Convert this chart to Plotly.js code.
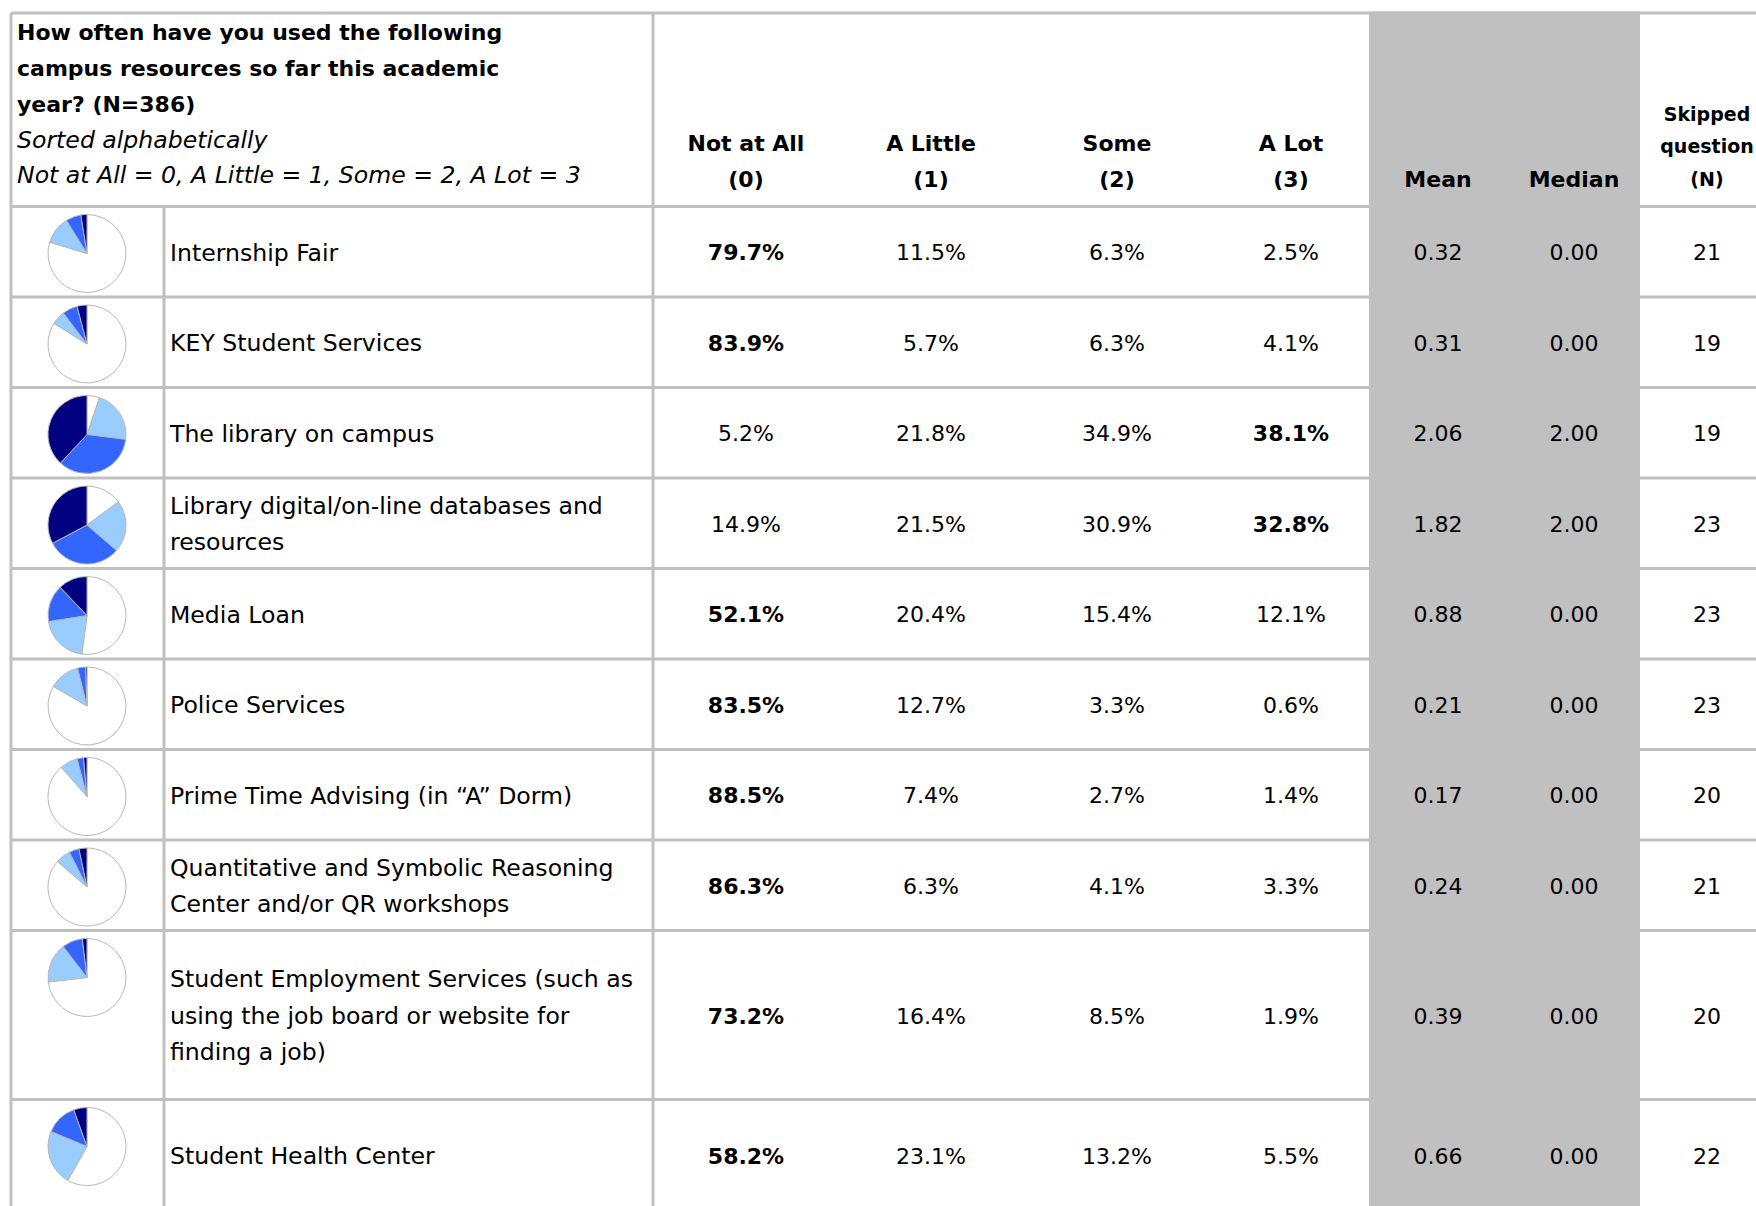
<!DOCTYPE html>
<html><head><meta charset="utf-8">
<script src="https://cdn.plot.ly/plotly-3.0.1.min.js"></script>
<style>html,body{margin:0;padding:0;background:#fff;overflow:hidden}#chart{width:1756px;height:1206px}</style>
</head><body><div id="chart"></div>
<script>
// ---------------- DATA ----------------
const resources = [
  "Internship Fair",
  "KEY Student Services",
  "The library on campus",
  "Library digital/on-line databases and\nresources",
  "Media Loan",
  "Police Services",
  "Prime Time Advising (in \u201cA\u201d Dorm)",
  "Quantitative and Symbolic Reasoning\nCenter and/or QR workshops",
  "Student Employment Services (such as\nusing the job board or website for\nfinding a job)",
  "Student Health Center"
];
const notAtAll = [79.7, 83.9, 5.2, 14.9, 52.1, 83.5, 88.5, 86.3, 73.2, 58.2];
const aLittle  = [11.5, 5.7, 21.8, 21.5, 20.4, 12.7, 7.4, 6.3, 16.4, 23.1];
const some     = [6.3, 6.3, 34.9, 30.9, 15.4, 3.3, 2.7, 4.1, 8.5, 13.2];
const aLot     = [2.5, 4.1, 38.1, 32.8, 12.1, 0.6, 1.4, 3.3, 1.9, 5.5];
const meanScores   = [0.32, 0.31, 2.06, 1.82, 0.88, 0.21, 0.17, 0.24, 0.39, 0.66];
const medianScores = [0, 0, 2, 2, 0, 0, 0, 0, 0, 0];
const skippedN     = [21, 19, 19, 23, 23, 23, 20, 21, 20, 22];
const responseHeaders = [["Not at All", "(0)"], ["A Little", "(1)"], ["Some", "(2)"], ["A Lot", "(3)"]];
const statHeaders = ["Mean", "Median"];
const skippedHeader = ["Skipped", "question", "(N)"];
const titleBold = [
  "How often have you used the following",
  "campus resources so far this academic",
  "year? (N=386)"
];
const titleItalic = [
  "Sorted alphabetically",
  "Not at All = 0, A Little = 1, Some = 2, A Lot = 3"
];
const sliceColors = ["#ffffff", "#99ccff", "#3366ff", "#000080"];

// ---------------- LAYOUT GEOMETRY ----------------
const W = 1756, H = 1206;
const TOP = 13, HEAD_BOTTOM = 206.5, LEFT = 11, PIE_DIV = 164, LABEL_DIV = 653;
const SHADE_X0 = 1369, SHADE_X1 = 1640;
const rowHeights = [90.5, 90.5, 90.5, 90.5, 90.5, 90.5, 90.5, 90.5, 169, 112];
const pctCols = [746, 931, 1117, 1291];
const meanX = 1438, medianX = 1574, skippedX = 1707;
const LABEL_X = 170, LINE_H = 36.5, DY = 3;
const PIE_CX = 87, PIE_R = 39, PIE_PAD = 8;
const GRID = "#c0c0c0";
const FONT = "DejaVu Sans";

const rowTops = [];
let acc = HEAD_BOTTOM;
rowHeights.forEach(h => { rowTops.push(acc); acc += h; });
const tableBottom = acc;
const rowMid = i => rowTops[i] + rowHeights[i] / 2 + DY;

const traces = [];
function textTrace(x, y, text, pos, size) {
  return {type: "scatter", mode: "text", x: x, y: y, text: text, textposition: pos,
    textfont: {family: FONT, size: size, color: "#000"}, hoverinfo: "skip", cliponaxis: false, showlegend: false};
}

// labels (split into lines for exact line spacing)
const lx = [], ly = [], lt = [];
resources.forEach((lab, i) => {
  const lines = lab.split("\n");
  lines.forEach((ln, k) => {
    lx.push(LABEL_X);
    ly.push(rowMid(i) + (k - (lines.length - 1) / 2) * LINE_H);
    lt.push(ln);
  });
});
traces.push(textTrace(lx, ly, lt, "middle right", 23.6));

// percentages (bold = largest in the row)
const series = [notAtAll, aLittle, some, aLot];
const px = [], py = [], pt = [];
resources.forEach((_, i) => {
  const vals = series.map(s => s[i]);
  const mx = Math.max(...vals);
  vals.forEach((v, c) => {
    px.push(pctCols[c]); py.push(rowMid(i));
    const s = v.toFixed(1) + "%";
    pt.push(v === mx ? "<b>" + s + "</b>" : s);
  });
});
traces.push(textTrace(px, py, pt, "middle center", 22));

// mean / median / skipped
const sx = [], sy = [], st = [];
resources.forEach((_, i) => {
  sx.push(meanX, medianX, skippedX);
  sy.push(rowMid(i), rowMid(i), rowMid(i));
  st.push(meanScores[i].toFixed(2), medianScores[i].toFixed(2), String(skippedN[i]));
});
traces.push(textTrace(sx, sy, st, "middle center", 22));

// title block
const TITLE_Y0 = 31.4 + DY, TITLE_STEP = 35.8;
traces.push(textTrace(titleBold.map(() => 17), titleBold.map((_, k) => TITLE_Y0 + k * TITLE_STEP),
  titleBold.map(s => "<b>" + s + "</b>"), "middle right", 22));
traces.push(textTrace(titleItalic.map(() => 17), titleItalic.map((_, k) => TITLE_Y0 + (k + titleBold.length) * TITLE_STEP),
  titleItalic.map(s => "<i>" + s + "</i>"), "middle right", 23.6));

// column headers
const hx = [], hy = [], ht = [];
responseHeaders.forEach((h, c) => {
  hx.push(pctCols[c], pctCols[c]); hy.push(142 + DY, 178 + DY);
  ht.push("<b>" + h[0] + "</b>", "<b>" + h[1] + "</b>");
});
hx.push(meanX, medianX); hy.push(178 + DY, 178 + DY);
statHeaders.forEach(s => ht.push("<b>" + s + "</b>"));
traces.push(textTrace(hx, hy, ht, "middle center", 22));
traces.push(textTrace(skippedHeader.map(() => skippedX), skippedHeader.map((_, k) => 113 + DY + k * 32.5),
  skippedHeader.map(s => "<b>" + s + "</b>"), "middle center", 19));

// pies
resources.forEach((_, i) => {
  const cy = rowTops[i] + PIE_PAD + PIE_R;
  traces.push({
    type: "pie", values: series.map(s => s[i]), labels: ["Not at All", "A Little", "Some", "A Lot"],
    sort: false, direction: "clockwise", rotation: 0, textinfo: "none", hoverinfo: "label+percent",
    marker: {colors: sliceColors, line: {color: "#b8b8b8", width: 1}},
    domain: {x: [(PIE_CX - PIE_R) / W, (PIE_CX + PIE_R) / W], y: [1 - (cy + PIE_R) / H, 1 - (cy - PIE_R) / H]},
    showlegend: false
  });
});

// grid shapes
const shapes = [];
const hline = y => ({type: "line", xref: "x", yref: "y", x0: LEFT, x1: W + 10, y0: y, y1: y, line: {color: GRID, width: 3}, layer: "below"});
const vline = (x, y0) => ({type: "line", xref: "x", yref: "y", x0: x, x1: x, y0: y0, y1: tableBottom + 10, line: {color: GRID, width: 3}, layer: "below"});
shapes.push(hline(TOP), hline(HEAD_BOTTOM));
rowTops.slice(1).forEach(y => shapes.push(hline(y)));
shapes.push(vline(LEFT, TOP), vline(PIE_DIV, HEAD_BOTTOM), vline(LABEL_DIV, TOP));
shapes.push({type: "rect", xref: "x", yref: "y", x0: SHADE_X0, x1: SHADE_X1, y0: TOP - 1.5, y1: tableBottom + 10,
  fillcolor: GRID, line: {width: 0}, layer: "below"});

const layout = {
  width: W, height: H, margin: {l: 0, r: 0, t: 0, b: 0},
  paper_bgcolor: "#fff", plot_bgcolor: "#fff",
  xaxis: {range: [0, W], visible: false, fixedrange: true},
  yaxis: {range: [H, 0], visible: false, fixedrange: true},
  shapes: shapes, showlegend: false, hovermode: "closest"
};
Plotly.newPlot("chart", traces, layout, {displayModeBar: false});
</script></body></html>
